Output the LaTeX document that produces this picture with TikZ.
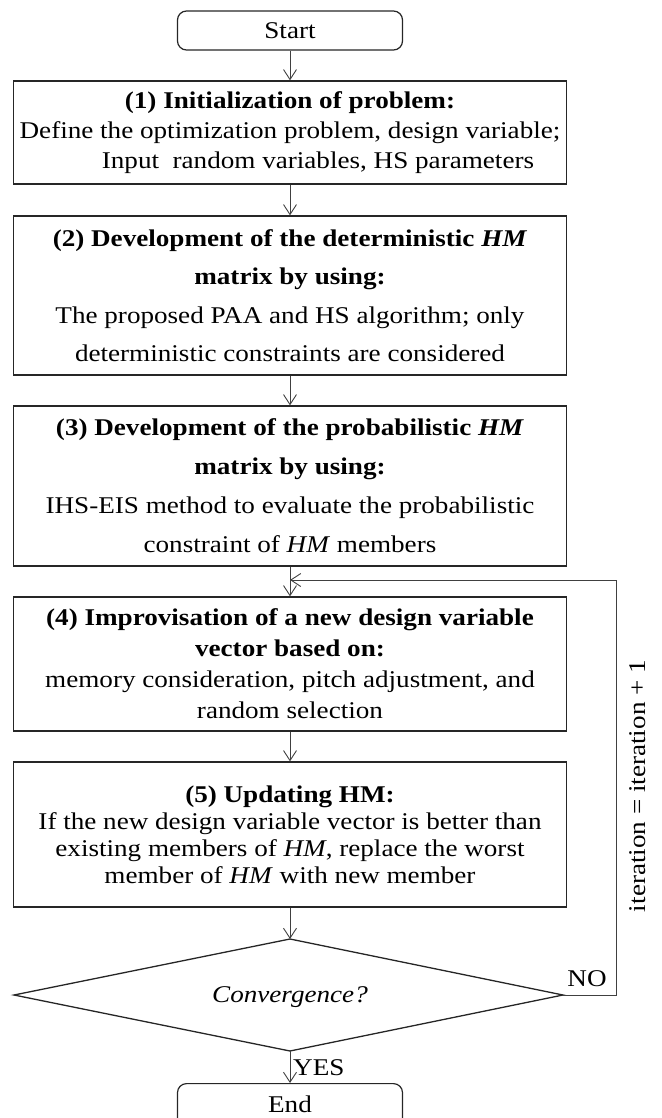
\documentclass[tikz,border=0pt]{standalone}
\usepackage{fontspec}
\setmainfont{Liberation Serif}[FakeStretch=1.13]
\usetikzlibrary{arrows.meta}
\begin{document}
\begin{tikzpicture}[x=1pt,y=-1pt,
  box/.style={draw=black!85,line width=1.3pt,minimum width=553pt,align=center,inner sep=0pt},
  term/.style={draw=black!85,line width=1.2pt,rounded corners=9pt,minimum width=225pt,minimum height=39pt,inner sep=0pt,font=\fontsize{24}{28}\selectfont},
  arr/.style={draw=black!75,line width=0.9pt,-{Straight Barb[length=10pt,width=13pt]}},
  lbl/.style={font=\fontsize{24}{26}\selectfont,inner sep=0pt}]
\useasboundingbox (0,0) rectangle (661,1118);

\node[term] (start) at (290,30.5) {Start};

\node[box,minimum height=103pt,font=\fontsize{24}{30}\selectfont] (b1) at (290,132.5)
  {\textbf{(1) Initialization of problem:}\\Define the optimization problem, design variable;\\\hspace*{56pt}Input\ \ random variables, HS parameters};

\node[box,minimum height=159pt,font=\fontsize{24}{38.5}\selectfont] (b2) at (290,295.5)
  {\textbf{(2) Development of the deterministic \textit{HM}}\\\textbf{matrix by using:}\\The proposed PAA and HS algorithm; only\\deterministic constraints are considered};

\node[box,minimum height=160pt,font=\fontsize{24}{39}\selectfont] (b3) at (290,486)
  {\textbf{(3) Development of the probabilistic \textit{HM}}\\\textbf{matrix by using:}\\IHS-EIS method to evaluate the probabilistic\\constraint of \textit{HM} members};

\node[box,minimum height=134pt,font=\fontsize{24}{31}\selectfont] (b4) at (290,664)
  {\textbf{(4) Improvisation of a new design variable}\\\textbf{vector based on:}\\memory consideration, pitch adjustment, and\\random selection};

\node[box,minimum height=145pt,font=\fontsize{24}{27}\selectfont] (b5) at (290,834.5)
  {\textbf{(5) Updating HM:}\\If the new design variable vector is better than\\existing members of \textit{HM}, replace the worst\\member of \textit{HM} with new member};

% decision diamond
\coordinate (dt) at (290,939);
\coordinate (db) at (290,1051);
\coordinate (dl) at (14,995);
\coordinate (dr) at (563,995);
\draw[draw=black!85,line width=1.3pt,line join=miter] (dt) -- (dr) -- (db) -- (dl) -- cycle;
\node[font=\fontsize{24}{28}\selectfont,inner sep=0pt] (dec) at (290,997) {\textit{Convergence?}};

\node[term,anchor=north,minimum height=46pt] (end) at (290,1083) {\raisebox{5pt}{End}};

\coordinate (j) at (290,580);
\coordinate (lc) at (616,995);

\draw[arr] (start) -- (b1);
\draw[arr] (b1) -- (b2);
\draw[arr] (b2) -- (b3);
\draw[arr] (b3) -- (b4);
\draw[arr] (b4) -- (b5);
\draw[arr] (b5) -- (dt);
\draw[arr] (db) -- (end);
\draw[arr] (dr) -- (lc) |- (j);

\node[lbl] (no) at (587,979) {NO};
\node[lbl,anchor=west] (yes) at (293,1068) {YES};
\node[lbl,rotate=90] (it) at (638,786) {iteration = iteration + 1};
\end{tikzpicture}
\end{document}
